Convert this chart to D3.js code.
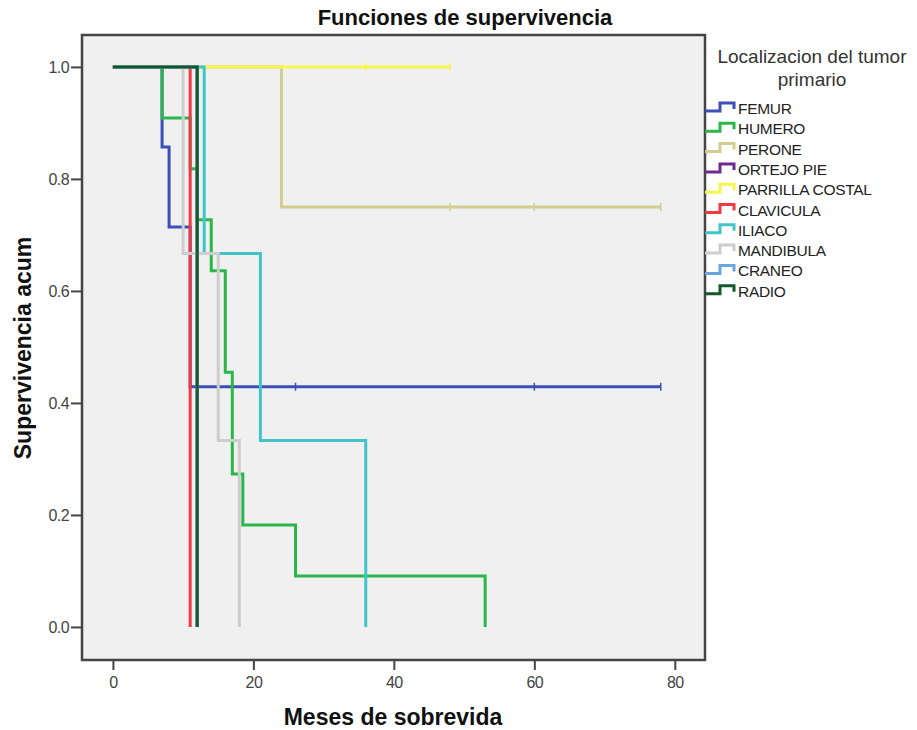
<!DOCTYPE html>
<html lang="es">
<head>
<meta charset="UTF-8">
<title>Funciones de supervivencia</title>
<script src="https://cdn.jsdelivr.net/npm/d3@7"></script>
<style>
  body { margin: 0; background: #fff; }
  svg { display: block; font-family: "Liberation Sans", Arial, sans-serif; }
</style>
</head>
<body>
<svg id="chart" width="917" height="730"></svg>
<script>
// grupos y colores (orden de la leyenda)
var groups = ["FEMUR", "HUMERO", "PERONE", "ORTEJO PIE", "PARRILLA COSTAL",
              "CLAVICULA", "ILIACO", "MANDIBULA", "CRANEO", "RADIO"];
var colors = ["#3a4fb8", "#2bb64a", "#d3cd92", "#6d2a8e", "#f6f64c",
              "#ee3a43", "#40c4c8", "#cdcdcd", "#6aa5dd", "#15582c"];

// tiempos de evento (meses) y supervivencia acumulada tras cada evento
var femurTimes = [0, 7, 8, 11],            femurSurv = [1, 0.857, 0.714, 0.429];
var humeroTimes = [0, 7, 11, 12, 14, 16, 17, 18.5, 26, 53];
var humeroSurv = [1, 0.909, 0.818, 0.727, 0.636, 0.455, 0.273, 0.182, 0.091, 0];
var peroneTimes = [0, 24],                 peroneSurv = [1, 0.75];
var ortejoTimes = [0, 12],                 ortejoSurv = [1, 0];
var parrillaTimes = [0],                   parrillaSurv = [1];
var claviculaTimes = [0, 11],              claviculaSurv = [1, 0];
var iliacoTimes = [0, 13, 21, 36],         iliacoSurv = [1, 0.667, 0.333, 0];
var mandibulaTimes = [0, 10, 15, 18],      mandibulaSurv = [1, 0.667, 0.333, 0];
var craneoTimes = [0, 12],                 craneoSurv = [1, 0];
var radioTimes = [0, 12],                  radioSurv = [1, 0];

// casos censurados (meses)
var femurCensor = [26, 60, 78];
var peroneCensor = [48, 60, 78];
var parrillaCensor = [36, 48];

var xTicks = [0, 20, 40, 60, 80];
var yTicks = [0, 0.2, 0.4, 0.6, 0.8, 1.0];

var series = [
  [femurTimes, femurSurv, femurCensor],
  [humeroTimes, humeroSurv, []],
  [peroneTimes, peroneSurv, peroneCensor],
  [ortejoTimes, ortejoSurv, []],
  [parrillaTimes, parrillaSurv, parrillaCensor],
  [claviculaTimes, claviculaSurv, []],
  [iliacoTimes, iliacoSurv, []],
  [mandibulaTimes, mandibulaSurv, []],
  [craneoTimes, craneoSurv, []],
  [radioTimes, radioSurv, []]
].map(function (s, i) {
  var pts = s[0].map(function (t, j) { return [t, s[1][j]]; });
  var end = Math.max(d3.max(s[0]), d3.max(s[2]) || 0);
  var last = pts[pts.length - 1];
  if (end > last[0]) pts.push([end, last[1]]);
  return { name: groups[i], color: colors[i], pts: pts, censor: s[2] };
});

var svg = d3.select("#chart");
// caja del grafico
var box = { left: 82, top: 35, right: 705, bottom: 660 };

var x = d3.scaleLinear().domain([-4.4, 84.3]).range([box.left, box.right]);
var y = d3.scaleLinear().domain([-0.059, 1.057]).range([box.bottom, box.top]);

// fondo del area de grafico
svg.append("rect")
  .attr("x", box.left).attr("y", box.top)
  .attr("width", box.right - box.left).attr("height", box.bottom - box.top)
  .attr("fill", "#f0f0f0");

var line = d3.line()
  .x(function (d) { return x(d[0]); })
  .y(function (d) { return y(d[1]); })
  .curve(d3.curveStepAfter);

var curves = svg.append("g").attr("class", "curves");
series.forEach(function (s) {
  curves.append("path")
    .attr("d", line(s.pts))
    .attr("fill", "none")
    .attr("stroke", s.color)
    .attr("stroke-width", 3);
  // marcas de censura
  s.censor.forEach(function (c) {
    var v = s.pts[s.pts.length - 1][1];
    curves.append("line")
      .attr("x1", x(c)).attr("x2", x(c))
      .attr("y1", y(v) - 4).attr("y2", y(v) + 4)
      .attr("stroke", s.color)
      .attr("stroke-width", 1.5);
  });
});

// marco
svg.append("rect")
  .attr("x", box.left).attr("y", box.top)
  .attr("width", box.right - box.left).attr("height", box.bottom - box.top)
  .attr("fill", "none")
  .attr("stroke", "#454545")
  .attr("stroke-width", 2.5);

// ejes
var xAxis = svg.append("g")
  .attr("transform", "translate(0," + (box.bottom + 1) + ")")
  .call(d3.axisBottom(x).tickValues(xTicks).tickSize(9).tickSizeOuter(0)
    .tickFormat(d3.format("d")));
var yAxis = svg.append("g")
  .attr("transform", "translate(" + (box.left - 1) + ",0)")
  .call(d3.axisLeft(y).tickValues(yTicks).tickSize(10).tickSizeOuter(0)
    .tickFormat(d3.format(".1f")));
[xAxis, yAxis].forEach(function (a) {
  a.select(".domain").remove();
  a.selectAll(".tick line").attr("stroke", "#454545").attr("stroke-width", 2);
  a.selectAll(".tick text")
    .attr("fill", "#444")
    .style("font-family", "'Liberation Sans', Arial, sans-serif")
    .style("font-size", "16px")
    .attr("letter-spacing", "-0.6");
});
xAxis.selectAll(".tick text").attr("y", 14).attr("dy", "0.8em");
yAxis.selectAll(".tick text").attr("x", -12);

// titulos
svg.append("text")
  .attr("x", 465).attr("y", 25)
  .attr("text-anchor", "middle")
  .attr("font-weight", "bold").attr("font-size", 22)
  .attr("fill", "#111")
  .text("Funciones de supervivencia");

svg.append("text")
  .attr("x", 393).attr("y", 725)
  .attr("text-anchor", "middle")
  .attr("font-weight", "bold").attr("font-size", 23)
  .attr("fill", "#111")
  .text("Meses de sobrevida");

svg.append("text")
  .attr("transform", "translate(31,348) rotate(-90)")
  .attr("text-anchor", "middle")
  .attr("font-weight", "bold").attr("font-size", 23)
  .attr("fill", "#111")
  .text("Supervivencia acum");

// leyenda
var legend = svg.append("g").attr("class", "legend");
legend.append("text")
  .attr("x", 812).attr("y", 63)
  .attr("text-anchor", "middle")
  .attr("font-size", 19).attr("fill", "#333")
  .text("Localizacion del tumor");
legend.append("text")
  .attr("x", 812).attr("y", 86)
  .attr("text-anchor", "middle")
  .attr("font-size", 19).attr("fill", "#333")
  .text("primario");

var item = legend.selectAll("g.item")
  .data(series)
  .enter().append("g")
  .attr("class", "item")
  .attr("transform", function (d, i) { return "translate(705," + (108 + i * 20.3) + ")"; });

item.append("path")
  .attr("d", "M0,3H15V-5H29V1")
  .attr("fill", "none")
  .attr("stroke", function (d) { return d.color; })
  .attr("stroke-width", 3);

item.append("text")
  .attr("x", 33).attr("y", 6)
  .attr("font-size", 15.5)
  .attr("letter-spacing", "-0.3")
  .attr("fill", "#222")
  .text(function (d) { return d.name; });
</script>
</body>
</html>
